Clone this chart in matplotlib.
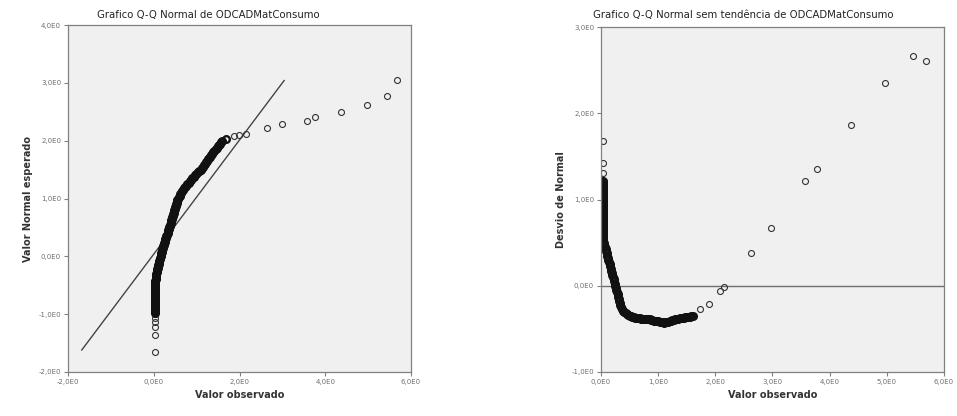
import matplotlib
matplotlib.use("Agg")
import matplotlib.pyplot as plt

# ---- left panel: normal Q-Q (observed value vs expected normal value) ----
# isolated points at the ends
obs_left_tail = [0.02, 0.02, 0.02, 0.02, 0.02, 0.02,
                 1.86, 1.98, 2.14, 2.63, 3.00, 3.58, 3.77, 4.37, 4.98, 5.44, 5.67]
exp_left_tail = [-1.65, -1.36, -1.22, -1.13, -1.06, -1.00,
                 2.08, 2.10, 2.12, 2.22, 2.29, 2.34, 2.41, 2.50, 2.62, 2.78, 3.05]
# the dense band of points
exp_left = [-0.975, -0.95, -0.925, -0.9, -0.875, -0.85, -0.825, -0.8, -0.775, -0.75,
            -0.725, -0.7, -0.675, -0.65, -0.625, -0.6, -0.575, -0.55, -0.525, -0.5,
            -0.475, -0.45, -0.425, -0.4, -0.375, -0.35, -0.325, -0.3, -0.275, -0.25,
            -0.225, -0.2, -0.175, -0.15, -0.125, -0.1, -0.075, -0.05, -0.025, 0.0,
            0.025, 0.05, 0.075, 0.1, 0.125, 0.15, 0.175, 0.2, 0.225, 0.25,
            0.275, 0.3, 0.325, 0.35, 0.375, 0.4, 0.425, 0.45, 0.475, 0.5,
            0.525, 0.55, 0.575, 0.6, 0.625, 0.65, 0.675, 0.7, 0.725, 0.75,
            0.775, 0.8, 0.825, 0.85, 0.875, 0.9, 0.925, 0.95, 0.975, 1.0,
            1.025, 1.05, 1.075, 1.1, 1.125, 1.15, 1.175, 1.2, 1.225, 1.25,
            1.275, 1.3, 1.325, 1.35, 1.375, 1.4, 1.425, 1.45, 1.475, 1.5,
            1.525, 1.55, 1.575, 1.6, 1.625, 1.65, 1.675, 1.7, 1.725, 1.75,
            1.775, 1.8, 1.825, 1.85, 1.875, 1.9, 1.925, 1.95, 1.975, 2.0, 2.03]
obs_left = [0.02, 0.02, 0.02, 0.02, 0.02, 0.02, 0.02, 0.02, 0.02, 0.02,
            0.02, 0.02, 0.02, 0.02, 0.02, 0.02, 0.025, 0.03, 0.03, 0.03,
            0.03, 0.03, 0.035, 0.04, 0.045, 0.05, 0.055, 0.06, 0.065, 0.07,
            0.08, 0.09, 0.095, 0.10, 0.11, 0.12, 0.13, 0.14, 0.15, 0.16,
            0.165, 0.17, 0.18, 0.19, 0.20, 0.21, 0.22, 0.23, 0.24, 0.25,
            0.26, 0.27, 0.28, 0.29, 0.305, 0.32, 0.33, 0.34, 0.35, 0.36,
            0.37, 0.38, 0.39, 0.40, 0.41, 0.42, 0.43, 0.44, 0.45, 0.46,
            0.47, 0.48, 0.49, 0.50, 0.51, 0.52, 0.53, 0.54, 0.55, 0.56,
            0.58, 0.60, 0.62, 0.64, 0.66, 0.68, 0.705, 0.73, 0.755, 0.78,
            0.81, 0.84, 0.87, 0.90, 0.93, 0.96, 0.99, 1.02, 1.055, 1.09,
            1.115, 1.14, 1.165, 1.19, 1.215, 1.24, 1.265, 1.29, 1.315, 1.34,
            1.365, 1.39, 1.415, 1.44, 1.465, 1.49, 1.515, 1.54, 1.57, 1.60, 1.68]
ref_line_x = [-1.68, 3.04]
ref_line_y = [-1.62, 3.04]

# ---- right panel: detrended normal Q-Q (observed value vs deviation) ----
obs_right_tail = [0.03, 0.03, 0.03,
                  1.73, 1.89, 2.08, 2.15, 2.62, 2.97, 3.57, 3.78, 4.37, 4.97, 5.45, 5.68]
dev_right_tail = [1.68, 1.42, 1.31,
                  -0.27, -0.21, -0.06, -0.01, 0.38, 0.67, 1.21, 1.35, 1.86, 2.35, 2.67, 2.61]
obs_right = [0.03, 0.03, 0.03, 0.03, 0.03, 0.03, 0.03, 0.03, 0.03, 0.03,
             0.03, 0.03, 0.03, 0.03, 0.03, 0.03, 0.03, 0.03, 0.03, 0.03,
             0.03, 0.03, 0.03, 0.03, 0.03, 0.03, 0.03, 0.03, 0.03, 0.03,
             0.03, 0.03, 0.03, 0.03,
             0.04, 0.05, 0.06, 0.07, 0.08, 0.09, 0.10, 0.11, 0.12, 0.13,
             0.14, 0.15, 0.16, 0.17, 0.18, 0.19, 0.20, 0.21, 0.22, 0.23,
             0.24, 0.25, 0.26, 0.27, 0.28, 0.29, 0.30, 0.31, 0.32, 0.33,
             0.34, 0.35, 0.37, 0.39, 0.41, 0.43, 0.45, 0.475, 0.50, 0.525,
             0.55, 0.575, 0.60, 0.625, 0.65, 0.675, 0.70, 0.725, 0.75, 0.775,
             0.80, 0.825, 0.85, 0.875, 0.90, 0.925, 0.95, 0.975, 1.0, 1.025,
             1.05, 1.075, 1.10, 1.125, 1.15, 1.175, 1.20, 1.225, 1.25, 1.275,
             1.30, 1.325, 1.35, 1.375, 1.40, 1.425, 1.45, 1.475, 1.50, 1.525,
             1.55, 1.575, 1.61]
dev_right = [1.21, 1.19, 1.17, 1.15, 1.13, 1.11, 1.09, 1.07, 1.05, 1.03,
             1.01, 0.99, 0.97, 0.95, 0.93, 0.91, 0.89, 0.87, 0.85, 0.83,
             0.81, 0.79, 0.77, 0.75, 0.73, 0.71, 0.69, 0.67, 0.65, 0.63,
             0.61, 0.59, 0.57, 0.55,
             0.52, 0.50, 0.475, 0.45, 0.425, 0.40, 0.375, 0.35, 0.325, 0.30,
             0.275, 0.25, 0.225, 0.20, 0.175, 0.15, 0.125, 0.10, 0.075, 0.05,
             0.025, 0.0, -0.025, -0.05, -0.075, -0.10, -0.125, -0.15, -0.175, -0.20,
             -0.225, -0.25, -0.275, -0.29, -0.305, -0.315, -0.33, -0.34, -0.35, -0.355,
             -0.36, -0.365, -0.37, -0.37, -0.37, -0.375, -0.38, -0.38, -0.38, -0.38,
             -0.38, -0.385, -0.39, -0.395, -0.40, -0.405, -0.41, -0.41, -0.41, -0.415,
             -0.42, -0.425, -0.43, -0.425, -0.42, -0.415, -0.41, -0.405, -0.40, -0.395,
             -0.39, -0.385, -0.38, -0.375, -0.37, -0.37, -0.37, -0.365, -0.36, -0.36,
             -0.36, -0.355, -0.35]

left_xticks = [-2, 0, 2, 4, 6]
left_yticks = [-2, -1, 0, 1, 2, 3, 4]
right_xticks = [0, 1, 2, 3, 4, 5, 6]
right_yticks = [-1, 0, 1, 2, 3]


def fmt(v):
    return f"{v:.1f}".replace(".", ",") + "E0"


def style(ax, xt, yt):
    ax.set_facecolor("#f0f0f0")
    for s in ax.spines.values():
        s.set_color("#808080")
        s.set_linewidth(0.9)
    ax.set_xticks(xt)
    ax.set_yticks(yt)
    ax.set_xticklabels([fmt(v) for v in xt])
    ax.set_yticklabels([fmt(v) for v in yt])
    ax.tick_params(direction="out", length=3, width=0.8, color="#808080",
                   labelsize=5, labelcolor="#707070", pad=2)
    ax.set_xlim(xt[0], xt[-1])
    ax.set_ylim(yt[0], yt[-1])


marker_kw = dict(linestyle="none", marker="o", markersize=4.3,
                 markerfacecolor="none", markeredgecolor="#333333",
                 markeredgewidth=0.8)
dense_kw = dict(marker_kw, markeredgecolor="#111111", markeredgewidth=1.7, markersize=4.8)

fig = plt.figure(figsize=(9.57, 4.16), dpi=100)

ax1 = fig.add_axes([0.0711, 0.1058, 0.3584, 0.834])
style(ax1, left_xticks, left_yticks)
ax1.plot(ref_line_x, ref_line_y, color="#444444", linewidth=1.0)
ax1.plot(obs_left_tail, exp_left_tail, **marker_kw)
ax1.plot(obs_left, exp_left, **dense_kw)
ax1.set_xlabel("Valor observado", fontsize=7, fontweight="bold", color="#333333", labelpad=4)
ax1.set_ylabel("Valor Normal esperado", fontsize=7, fontweight="bold", color="#333333", labelpad=4)
fig.text(208 / 957, 1 - 15 / 416, "Grafico Q-Q Normal de ODCADMatConsumo",
         ha="center", va="center", fontsize=7.3, color="#222222")

ax2 = fig.add_axes([0.628, 0.1058, 0.3584, 0.829])
style(ax2, right_xticks, right_yticks)
ax2.axhline(0, color="#707070", linewidth=1.0)
ax2.plot(obs_right_tail, dev_right_tail, **marker_kw)
ax2.plot(obs_right, dev_right, **dense_kw)
ax2.set_xlabel("Valor observado", fontsize=7, fontweight="bold", color="#333333", labelpad=4)
ax2.set_ylabel("Desvio de Normal", fontsize=7, fontweight="bold", color="#333333", labelpad=4)
fig.text(743 / 957, 1 - 15 / 416, "Grafico Q-Q Normal sem tendência de ODCADMatConsumo",
         ha="center", va="center", fontsize=7.3, color="#222222")

fig.savefig("out.png", dpi=100)
